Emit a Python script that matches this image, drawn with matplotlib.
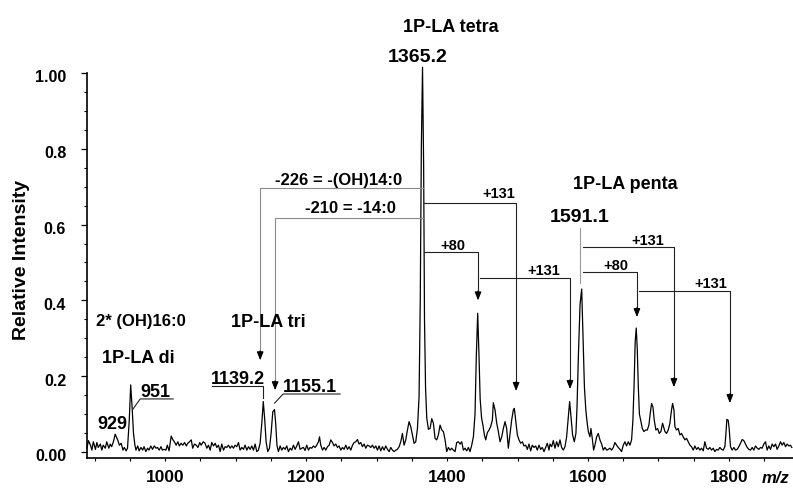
import matplotlib.pyplot as plt
from matplotlib.ticker import MultipleLocator, FixedLocator
from matplotlib.transforms import ScaledTranslation

plt.rcParams['font.family'] = ['Liberation Sans', 'DejaVu Sans']
plt.rcParams['font.weight'] = 'bold'

# spectrum trace, m/z and relative intensity
mz = [
    889, 891, 894, 896, 898, 901, 903, 905, 908, 910, 912, 915, 917, 920, 922, 924,
    926.5, 929, 932.5, 935, 937.5, 940, 942, 944.5, 946.5, 949, 951, 953, 955, 957,
    958.5, 961, 963, 965.5, 968, 970, 972.5, 975, 977, 979.5, 982, 984.5, 987, 989,
    991.5, 994, 996, 998.5, 1001, 1003, 1005.5, 1008.5, 1011, 1013, 1015.5, 1018,
    1020, 1022.5, 1025, 1027.5, 1030, 1032, 1034.5, 1037, 1039, 1041.5, 1044, 1046.5,
    1049, 1051, 1054, 1056.5,
    1059.1, 1061.4, 1063.8, 1066.1, 1068.5, 1070.9, 1073.2, 1075.6, 1078.0, 1080.3,
    1082.7, 1085.1, 1087.4, 1089.8, 1092.2, 1094.5, 1096.9, 1099.2, 1101.6, 1104.0,
    1106.3, 1108.7, 1111.1, 1113.4, 1115.8, 1118.2, 1120.5, 1122.9, 1125.3, 1127.6,
    1130.0, 1132.3, 1134.7, 1137.1, 1139.2, 1141.3, 1143.2, 1145.6, 1148.0, 1150.3,
    1152.7, 1155.1, 1156.8, 1158.6, 1160.7, 1163.1, 1165.4, 1167.8, 1170.2, 1172.5,
    1174.9, 1177.3, 1179.6, 1182.0, 1184.4, 1186.7, 1189.1, 1191.4, 1193.8, 1196.2,
    1198.5, 1200.9, 1203.3, 1205.6, 1208.0, 1210.4, 1212.7, 1215.1,
    1217.5, 1219.0, 1220.8, 1223.2, 1225.6, 1227.9, 1230.3, 1232.7, 1235.0, 1237.4,
    1239.7, 1242.1, 1244.5, 1246.8, 1249.2, 1251.6, 1253.9, 1256.3, 1258.7, 1261.0,
    1263.4, 1265.8, 1268.1, 1270.5, 1272.8, 1275.2, 1277.6, 1279.9, 1282.3, 1284.7,
    1287.0, 1289.4, 1291.8, 1294.1, 1296.5, 1298.9, 1301.2, 1303.6, 1306.0, 1308.3,
    1310.7, 1313.0, 1315.4, 1317.8, 1320.1, 1322.5, 1324.9, 1327.2, 1329.6, 1332.0,
    1334.3, 1336.7, 1339.0, 1341.4, 1343.8, 1346.1, 1348.5, 1350.9, 1353.2, 1355.6,
    1358.0, 1360.3, 1362.0, 1363.5, 1365.2, 1366.8, 1368.0, 1369.5, 1371.2, 1373.5,
    1375.9, 1378.3, 1380.6, 1383.0, 1385.4, 1387.7, 1390.1, 1392.5, 1394.8, 1397.2,
    1399.5, 1401.9, 1404.3, 1406.6, 1409.0, 1411.4, 1413.7, 1416.1, 1418.5, 1420.8,
    1423.2, 1425.5, 1427.9, 1430.3, 1432.6, 1435.0, 1437.4, 1439.7, 1441.5, 1443.5,
    1445.4, 1447.0, 1449.0, 1451.0, 1453.0, 1454.9, 1457.2, 1459.6, 1461.9, 1464.3,
    1465.7, 1468.1, 1470.5, 1472.8, 1475.2, 1477.6, 1479.9, 1482.3, 1484.6, 1487.0,
    1489.4, 1491.7, 1494.1, 1495.5, 1497.9, 1499.8, 1502.1, 1504.5, 1506.9, 1509.2,
    1511.6, 1514.0, 1516.3, 1518.7, 1521.0, 1523.4, 1525.8, 1528.1, 1530.5, 1532.9,
    1535.2, 1537.6, 1540.0, 1542.3, 1544.7,
    1546.1, 1548.5, 1550.8, 1553.2, 1555.5, 1557.9, 1560.3, 1562.6, 1565.0, 1567.4,
    1569.7, 1572.1, 1574.0, 1575.9, 1578.2, 1580.6, 1582.9, 1584.5, 1586.5, 1588.8,
    1591.1, 1593.0, 1595.0, 1597.0, 1599.0, 1600.5, 1602.8, 1604.2, 1606.1, 1608.0,
    1609.9, 1612.3, 1614.6, 1617.0, 1619.4, 1621.7, 1624.1, 1626.5, 1628.8, 1631.2,
    1633.6, 1635.9, 1638.3, 1640.6, 1643.0, 1645.4, 1647.7, 1650.1, 1652.5, 1654.8,
    1657.2, 1659.6, 1661.9, 1663.8, 1665.5, 1667.0, 1668.5, 1670.0, 1671.5, 1673.0,
    1674.7, 1677.1, 1679.4, 1681.8, 1684.2, 1686.5, 1688.4, 1690.3, 1692.2, 1694.1,
    1696.4, 1698.8, 1701.2, 1703.5, 1705.9,
    1709.2, 1711.6, 1713.9, 1716.3, 1718.6, 1720.1, 1722.0, 1723.4, 1725.7, 1728.1,
    1730.5, 1732.8, 1735.2, 1737.6, 1739.9, 1742.3, 1744.7, 1747.0, 1749.4, 1751.7,
    1754.1, 1756.5, 1758.8, 1761.2, 1763.6, 1765.9, 1768.3, 1770.7, 1773.0, 1775.4,
    1777.8, 1780.1, 1782.5, 1784.8, 1787.2, 1789.6, 1791.9, 1794.3, 1795.7, 1797.1,
    1799.0, 1800.4, 1802.3, 1804.7, 1807.1, 1809.4, 1811.8, 1814.1, 1816.5, 1818.9,
    1821.2, 1823.6, 1826.0, 1828.3, 1830.7, 1833.1, 1835.4, 1837.8, 1840.2, 1842.5,
    1844.9, 1847.2, 1849.6, 1852.0, 1854.3, 1856.7, 1859.1, 1861.4, 1863.8, 1866.2,
    1868.5, 1870.9, 1873.3, 1875.6, 1878.0, 1880.4, 1882.7, 1885.1, 1887.4, 1889.3,
]
intensity = [
    0.010, 0.030, 0.018, 0.005, 0.027, 0.007, 0.025, 0.012, 0.021, 0.005, 0.018, 0.010, 0.027, 0.010, 0.021, 0.014,
    0.027, 0.047, 0.032, 0.018, 0.023, 0.005, 0.012, 0.003, 0.010, 0.084, 0.177, 0.119, 0.049, 0.018,
    0.005, 0.016, 0.003, 0.012, 0.005, 0.014, 0.001, 0.010, 0.005, 0.016, 0.007, 0.016, 0.010, 0.012,
    0.005, 0.014, 0.005, 0.007, 0.005, 0.018, 0.003, 0.042, 0.032, 0.027, 0.018, 0.027,
    0.016, 0.023, 0.018, 0.025, 0.016, 0.023, 0.027, 0.032, 0.010, 0.021, 0.018, 0.012,
    0.025, 0.018, 0.027, 0.023,
    0.010, 0.018, 0.005, 0.025, 0.016, 0.023, 0.012, 0.018, 0.001, 0.021,
    0.005, 0.014, 0.012, 0.018, 0.010, 0.016, 0.010, 0.018, 0.014, 0.025,
    0.005, 0.012, 0.007, 0.018, 0.005, 0.014, 0.007, 0.016, 0.005, 0.021,
    0.001, 0.005, 0.023, 0.076, 0.133, 0.084, 0.027, 0.001, 0.010, 0.049,
    0.106, 0.112, 0.076, 0.018, 0.001, 0.016, 0.005, 0.012, 0.007, 0.016,
    0.001, 0.010, 0.005, 0.018, 0.007, 0.016, 0.027, 0.007, 0.010, 0.012,
    0.004, 0.018, 0.005, 0.012, 0.010, 0.016, 0.012, 0.018,
    0.027, 0.040, 0.018, 0.005, 0.012, 0.005, 0.014, 0.018, 0.032, 0.025,
    0.016, 0.021, 0.012, 0.016, 0.005, 0.012, 0.007, 0.018, 0.007, 0.014,
    0.005, 0.018, 0.025, 0.027, 0.033, 0.021, 0.025, 0.014, 0.021, 0.010,
    0.018, 0.016, 0.012, 0.018, 0.010, 0.016, 0.005, 0.016, 0.003, 0.014,
    0.005, 0.016, 0.007, 0.001, 0.012, 0.005, 0.001, 0.005, 0.007, 0.014,
    0.027, 0.049, 0.018, 0.032, 0.058, 0.080, 0.067, 0.045, 0.023, 0.027,
    0.062, 0.146, 0.400, 0.800, 1.015, 0.750, 0.350, 0.170, 0.090, 0.060,
    0.062, 0.088, 0.076, 0.036, 0.032, 0.045, 0.071, 0.058, 0.054, 0.032,
    0.001, 0.012, 0.005, 0.010, 0.005, 0.001, 0.025, 0.027, 0.021, 0.027,
    0.005, 0.010, 0.003, 0.012, 0.001, 0.018, 0.040, 0.100, 0.250, 0.366,
    0.250, 0.140, 0.090, 0.070, 0.045, 0.032, 0.051, 0.058, 0.067, 0.084,
    0.130, 0.111, 0.076, 0.054, 0.027, 0.040, 0.062, 0.080, 0.062, 0.010,
    0.049, 0.084, 0.111, 0.115, 0.076, 0.045, 0.032, 0.023, 0.027, 0.016,
    0.018, 0.007, 0.021, 0.003, 0.018, 0.012, 0.016, 0.005, 0.018, 0.007,
    0.012, 0.001, 0.012, 0.023, 0.005,
    0.021, 0.014, 0.030, 0.010, 0.027, 0.014, 0.032, 0.012, 0.005, 0.014,
    0.040, 0.093, 0.133, 0.093, 0.045, 0.027, 0.049, 0.120, 0.260, 0.390,
    0.430, 0.300, 0.170, 0.110, 0.075, 0.054, 0.040, 0.062, 0.036, 0.005,
    0.018, 0.040, 0.049, 0.032, 0.021, 0.005, 0.012, 0.005, 0.007, 0.010,
    0.005, 0.012, 0.025, 0.018, 0.012, 0.007, 0.001, 0.018, 0.027, 0.016,
    0.027, 0.018, 0.032, 0.084, 0.180, 0.290, 0.327, 0.270, 0.170, 0.100,
    0.085, 0.062, 0.054, 0.058, 0.058, 0.071, 0.102, 0.128, 0.119, 0.084,
    0.058, 0.062, 0.049, 0.054, 0.076,
    0.054, 0.049, 0.058, 0.076, 0.111, 0.128, 0.111, 0.067, 0.058, 0.062,
    0.045, 0.049, 0.040, 0.032, 0.036, 0.027, 0.018, 0.014, 0.005, 0.016,
    0.007, 0.012, 0.005, 0.010, 0.003, 0.027, 0.010, 0.007, 0.012, 0.005,
    0.010, 0.001, 0.007, 0.005, 0.012, 0.007, 0.005, 0.014, 0.045, 0.086,
    0.084, 0.062, 0.014, 0.005, 0.012, 0.005, 0.007, 0.014, 0.023, 0.033,
    0.030, 0.021, 0.012, 0.007, 0.005, 0.012, 0.005, 0.016, 0.010, 0.007,
    0.012, 0.010, 0.021, 0.027, 0.005, 0.016, 0.007, 0.021, 0.014, 0.021,
    0.007, 0.016, 0.027, 0.018, 0.025, 0.014, 0.021, 0.016, 0.018, 0.012,
]

ytick_vals = [0.0, 0.2, 0.4, 0.6, 0.8, 1.0]
ytick_labels = ['0.00', '0.2', '0.4', '0.6', '0.8', '1.00']
xtick_vals = [1000, 1200, 1400, 1600, 1800]

fig = plt.figure(figsize=(7.93, 4.88), dpi=100)
ax = fig.add_axes([0.1097, 0.0615, 0.8903, 0.789])

ax.plot(mz, intensity, color='black', lw=0.9, clip_on=False)
ax.set_xlim(889, 1891)
ax.set_ylim(-0.0158, 1.0)

for side in ['top', 'right']:
    ax.spines[side].set_visible(False)
ax.spines['left'].set_linewidth(1.2)
ax.spines['bottom'].set_linewidth(1.2)

ax.set_yticks(ytick_vals)
ax.set_yticklabels(ytick_labels)
ax.yaxis.set_minor_locator(MultipleLocator(0.05))
ax.set_xticks(xtick_vals)
ax.xaxis.set_minor_locator(FixedLocator(list(range(900, 1900, 50))))
ax.tick_params(axis='y', which='major', length=4, width=0.9, pad=11, labelsize=11.5)
ax.tick_params(axis='y', which='minor', length=2.2, width=0.8)
ax.tick_params(axis='x', which='both', length=2.2, width=0.8)
ax.tick_params(axis='x', which='major', pad=6.5, labelsize=12.5)
for lab in ax.get_yticklabels():
    lab.set_family(['Liberation Sans Narrow', 'Liberation Sans'])
    lab.set_fontweight('bold')
    lab.set_transform(lab.get_transform() + ScaledTranslation(0, -3.5 / 100, fig.dpi_scale_trans))
for lab in ax.get_xticklabels():
    lab.set_fontweight('bold')

fig.text(22 / 793, 1 - 260 / 488, 'Relative Intensity', rotation=90, fontsize=14,
         fontweight='bold', ha='center', va='center')
fig.text(762 / 793, 5 / 488, 'm/z', fontsize=12, fontweight='bold', style='italic',
         ha='left', va='baseline')


def label(x, y, s, size=13):
    ax.text(x, y, s, fontsize=size, fontweight='bold', ha='center', va='baseline')


def bracket(x0, x1, ytop, ytip, color='#222222'):
    # horizontal run from the parent peak, then down to the fragment with an arrowhead
    ax.plot([x0, x1, x1], [ytop, ytop, ytip + 0.01], color=color, lw=0.8, clip_on=False)
    ax.annotate('', xy=(x1, ytip), xytext=(x1, ytip + 0.025),
                arrowprops=dict(arrowstyle='-|>,head_length=0.5,head_width=0.2',
                                color='black', lw=0.8, shrinkA=0, shrinkB=0))


# peak names and masses
label(1405.7, 1.108, '1P-LA tetra')
label(1358.9, 1.028, '1365.2', 14)
label(1652.5, 0.693, '1P-LA penta')
label(1588.7, 0.606, '1591.1', 14)
label(966, 0.332, '2* (OH)16:0', 12)
label(961.7, 0.234, '1P-LA di')
label(1146.1, 0.329, '1P-LA tri')
label(924.8, 0.061, '929')
label(985.8, 0.144, '951')
label(1102.8, 0.179, '1139.2')
label(1205.7, 0.158, '1155.1')

# underlines tying the masses to their peaks
ax.plot([1011.3, 964.5, 954.2], [0.140, 0.140, 0.113], color='#222222', lw=0.8)
ax.plot([1066.7, 1139.0, 1139.0], [0.175, 0.175, 0.142], color='#222222', lw=0.8)
ax.plot([1248.2, 1167.4, 1155.3], [0.153, 0.153, 0.129], color='#222222', lw=0.8)

# losses from the tetra-acyl peak
label(1245.4, 0.704, '-226 = -(OH)14:0', 12)
label(1262.4, 0.630, '-210 = -14:0', 12)
bracket(1365.2, 1134.8, 0.696, 0.242, '#8c8c8c')
bracket(1365.2, 1156.0, 0.617, 0.163, '#8c8c8c')

# additions of phosphate (+80) and aminoarabinose (+131)
label(1473.8, 0.669, '+131', 10.5)
bracket(1367.5, 1498.0, 0.656, 0.161)
label(1408.5, 0.532, '+80', 10.5)
bracket(1367.5, 1444.0, 0.527, 0.400)
label(1537.6, 0.466, '+131', 10.5)
bracket(1447.0, 1574.5, 0.458, 0.166)

ax.plot([1588.7, 1588.7], [0.590, 0.445], color='#9a9a9a', lw=0.8)
label(1685.1, 0.547, '+131', 10.5)
bracket(1593.0, 1722.0, 0.540, 0.171)
label(1639.7, 0.480, '+80', 10.5)
bracket(1593.0, 1669.5, 0.474, 0.356)
label(1774.5, 0.432, '+131', 10.5)
bracket(1672.0, 1801.4, 0.424, 0.129)

fig.savefig('out.png', dpi=100)
